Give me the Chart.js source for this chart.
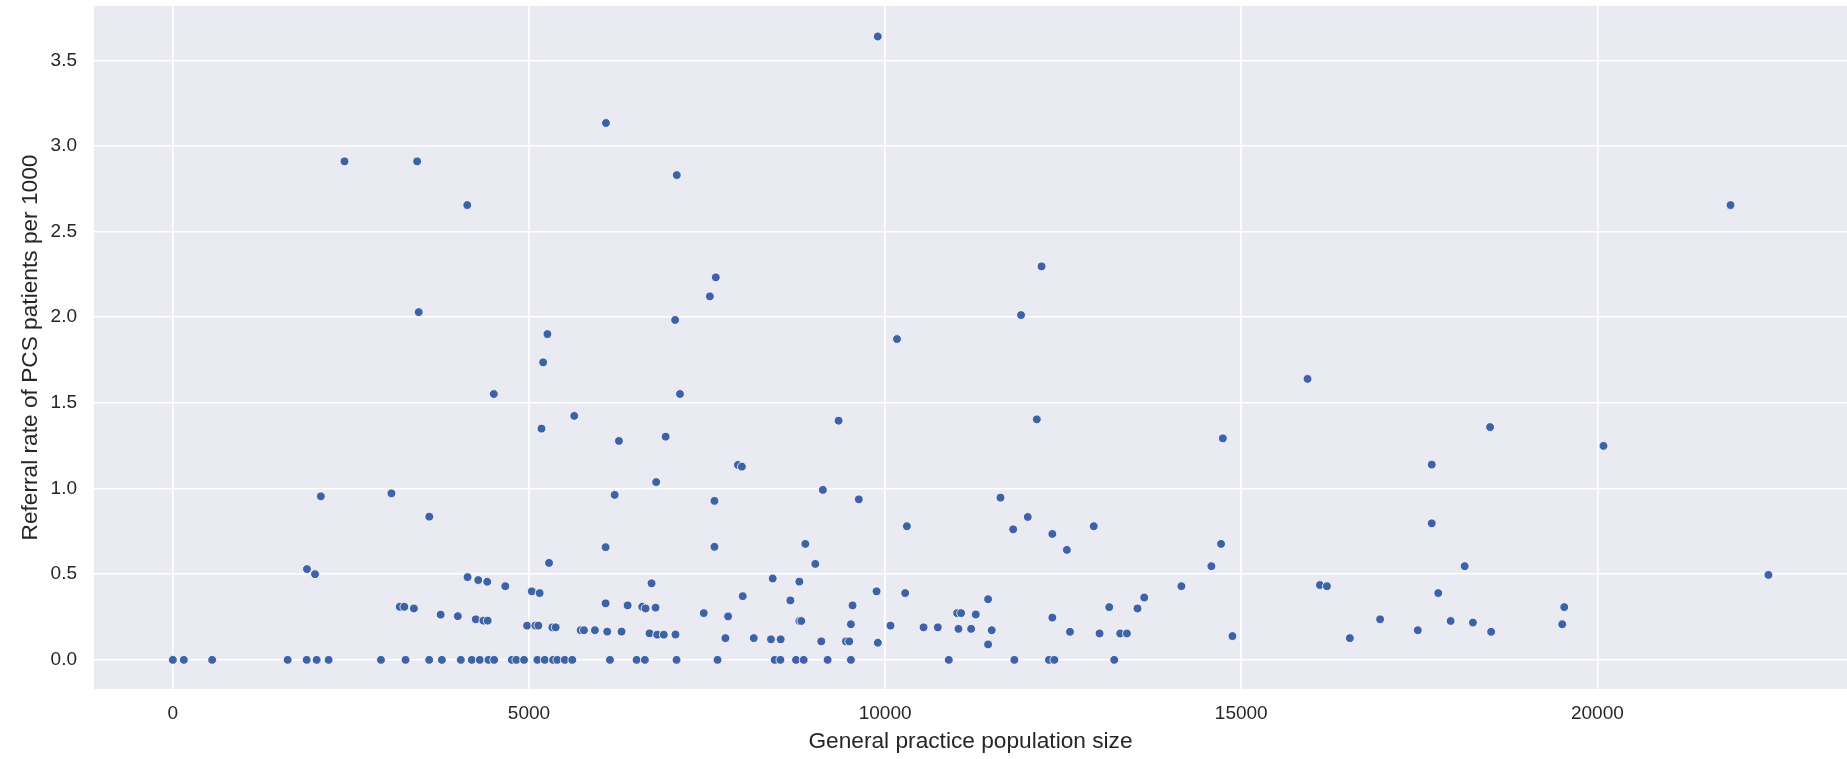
<!DOCTYPE html>
<html>
<head>
<meta charset="utf-8">
<script src="https://cdn.jsdelivr.net/npm/chart.js@4"></script>
<style>
  html, body { margin: 0; padding: 0; background: #fff; overflow: hidden; }
  #wrap { position: relative; width: 1847px; height: 759px; }
  canvas { display: block; }
</style>
</head>
<body>
<div id="wrap"><canvas id="chart"></canvas></div>
<script>
// practices with no referrals (rate 0.0)
const zeroPracticeSize = [
  0, 154, 552, 1612, 1879, 2019, 2187, 2922, 3267, 3599, 3777, 4043, 4197, 4309,
  4431, 4511, 4759, 4823, 4931, 5118, 5221, 5338, 5398, 5502, 5608, 6137, 6511,
  6627, 7072, 7647, 8450, 8530, 8749, 8857, 9193, 9520, 10894, 11815, 12301,
  12376, 13217,
];

// practices with at least one referral
const practiceSize = [
  1883, 1996, 2078, 2410, 3430, 3452, 4134, 4506, 3069, 3600, 3185, 3250, 3384,
  3760, 4001, 4138, 4288, 4414, 4668, 4253, 4361, 4420, 5040, 5150, 5282, 4973,
  5090, 5132, 5328, 5375, 5259, 5199, 5176, 5636, 6081, 6263, 6203, 6076, 6076,
  6385, 6590, 6637, 6777, 6721, 5726, 5772, 5926, 6099, 6300, 6693, 6800, 6893,
  7057, 7075, 7623, 7540, 7052, 7120, 6919, 6786, 7934, 7989, 7604, 7604, 7454,
  7796, 7758, 8001, 8156, 8398, 8534, 8422, 8670, 8796, 8796, 8824, 8880, 9020,
  9126, 9347, 9104, 9450, 9497, 9543, 9520, 9631, 9880, 9898, 9897, 10076,
  10167, 10306, 10282, 10540, 10740, 11011, 11067, 11030, 11208, 11273, 11446,
  11497, 11446, 11620, 11798, 11909, 12003, 12130, 12197, 12348, 12348, 12552,
  12596, 12929, 13011, 13147, 13301, 13395, 13544, 13638, 14160, 14581, 14717,
  14742, 14877, 15931, 16105, 16203, 16525, 16950, 17479, 17675, 17675, 17766,
  17940, 18137, 18253, 18494, 18509, 19507, 19535, 20086, 21870, 22402,
];
const referralRate = [
  0.53, 0.50, 0.955, 2.91, 2.91, 2.03, 2.655, 1.552, 0.972, 0.836, 0.31, 0.31, 0.30,
  0.264, 0.255, 0.483, 0.466, 0.456, 0.43, 0.237, 0.229, 0.229, 0.40, 0.39, 0.566, 0.20,
  0.20, 0.20, 0.19, 0.19, 1.902, 1.737, 1.35, 1.424, 3.134, 1.278, 0.963, 0.658, 0.33,
  0.318, 0.31, 0.30, 0.305, 0.447, 0.173, 0.173, 0.173, 0.165, 0.165, 0.155, 0.147, 0.147,
  0.148, 2.83, 2.233, 2.122, 1.984, 1.552, 1.303, 1.038, 1.138, 1.128, 0.928, 0.66, 0.273,
  0.254, 0.127, 0.372, 0.127, 0.12, 0.12, 0.475, 0.347, 0.457, 0.227, 0.227, 0.677, 0.56,
  0.992, 1.396, 0.108, 0.108, 0.108, 0.318, 0.208, 0.937, 0.40, 0.10, 3.639, 0.20,
  1.873, 0.78, 0.39, 0.19, 0.19, 0.273, 0.273, 0.181, 0.181, 0.265, 0.354,
  0.173, 0.09, 0.947, 0.762, 2.013, 0.834, 1.404, 2.297, 0.735, 0.247, 0.642,
  0.164, 0.78, 0.154, 0.308, 0.154, 0.154, 0.30, 0.364, 0.43, 0.547, 0.677,
  1.293, 0.139, 1.64, 0.437, 0.43, 0.127, 0.237, 0.173, 1.14, 0.797, 0.39,
  0.227, 0.547, 0.218, 1.359, 0.164, 0.208, 0.308, 1.249, 2.655, 0.496,
];

const xTicks = [0, 5000, 10000, 15000, 20000];
const yTicks = [0, 0.5, 1.0, 1.5, 2.0, 2.5, 3.0, 3.5];

const FONT = "'Liberation Sans', Arial, sans-serif";
const TEXT = "#262626";

const points = zeroPracticeSize.map((x) => ({ x: x, y: 0 }))
  .concat(practiceSize.map((x, i) => ({ x: x, y: referralRate[i] })));

// seaborn darkgrid style panel
const plotBackground = {
  id: "plotBackground",
  beforeDraw(chart) {
    const { ctx, chartArea } = chart;
    ctx.save();
    ctx.fillStyle = "#EAEAF2";
    ctx.fillRect(chartArea.left, chartArea.top,
      chartArea.right - chartArea.left, chartArea.bottom - chartArea.top);
    ctx.restore();
  },
};

new Chart(document.getElementById("chart"), {
  type: "scatter",
  data: {
    datasets: [{
      data: points,
      backgroundColor: "#3D62A6",
      borderColor: "#ffffff",
      borderWidth: 0.8,
      pointRadius: 4.4,
    }],
  },
  options: {
    responsive: true,
    maintainAspectRatio: false,
    animation: false,
    // no room kept for point overflow: the panel runs to the right edge
    layout: { autoPadding: false, padding: { top: 6, right: 0, bottom: 0, left: 0 } },
    plugins: {
      legend: { display: false },
      tooltip: { enabled: false },
    },
    scales: {
      x: {
        type: "linear",
        min: -1107,
        max: 23505,
        afterBuildTicks: (scale) => { scale.ticks = xTicks.map((v) => ({ value: v })); },
        afterFit: (scale) => {
          scale.height = 70;
          scale.paddingLeft = 0;
          scale.paddingRight = 0;
        },
        grid: { color: "#ffffff", lineWidth: 1.6, drawTicks: false },
        border: { display: false },
        ticks: {
          padding: 13,
          color: TEXT,
          font: { family: FONT, size: 19 },
          maxRotation: 0,
          callback: (v) => String(v),
        },
        title: {
          display: true,
          text: "General practice population size",
          color: TEXT,
          font: { family: FONT, size: 22.7 },
          padding: { top: 0, bottom: 4 },
        },
      },
      y: {
        type: "linear",
        min: -0.17,
        max: 3.817,
        afterBuildTicks: (scale) => { scale.ticks = yTicks.map((v) => ({ value: v })); },
        afterFit: (scale) => {
          scale.width = 94;
          scale.paddingTop = 0;
          scale.paddingBottom = 0;
        },
        grid: { color: "#ffffff", lineWidth: 1.6, drawTicks: false },
        border: { display: false },
        ticks: {
          padding: 17,
          color: TEXT,
          font: { family: FONT, size: 19 },
          callback: (v) => v.toFixed(1),
        },
        title: {
          display: true,
          text: "Referral rate of PCS patients per 1000",
          color: TEXT,
          font: { family: FONT, size: 22.7 },
          padding: { top: 17, bottom: 0 },
        },
      },
    },
  },
  plugins: [plotBackground],
});
</script>
</body>
</html>
